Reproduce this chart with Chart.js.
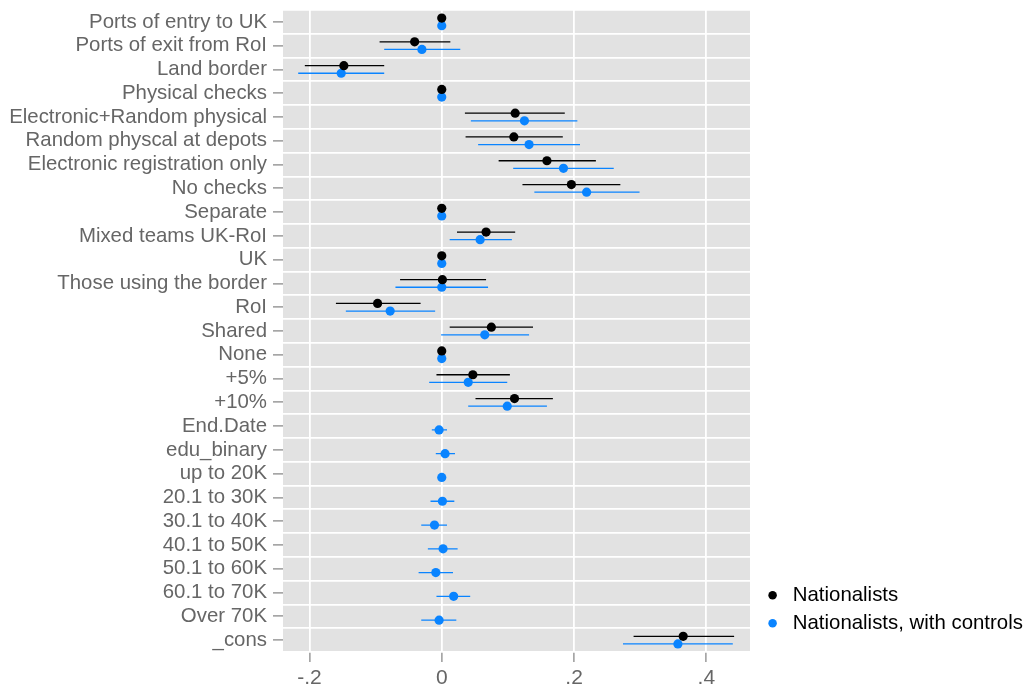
<!DOCTYPE html>
<html><head><meta charset="utf-8">
<script src="https://cdn.jsdelivr.net/npm/chart.js@4/dist/chart.umd.min.js"></script>
<style>html,body{margin:0;padding:0;background:#fff}#wrap{width:1032px;height:687px;position:relative}</style>
</head><body><div id="wrap"><canvas id="c"></canvas></div>
<script>
const categories = ["Ports of entry to UK","Ports of exit from RoI","Land border","Physical checks","Electronic+Random physical","Random physcal at depots","Electronic registration only","No checks","Separate","Mixed teams UK-RoI","UK","Those using the border","RoI","Shared","None","+5%","+10%","End.Date","edu_binary","up to 20K","20.1 to 30K","30.1 to 40K","40.1 to 50K","50.1 to 60K","60.1 to 70K","Over 70K","_cons"];

const seriesNames = ["Nationalists","Nationalists, with controls"];

const natCoef = [0,-0.041,-0.148,0,0.111,0.109,0.159,0.196,0,0.067,0,0.001,-0.097,0.075,0,0.047,0.110,null,null,null,null,null,null,null,null,null,0.365];
const natLo   = [null,-0.094,-0.207,null,0.035,0.036,0.086,0.122,null,0.023,null,-0.063,-0.160,0.012,null,-0.008,0.051,null,null,null,null,null,null,null,null,null,0.290];
const natHi   = [null,0.013,-0.087,null,0.186,0.183,0.233,0.270,null,0.111,null,0.067,-0.032,0.138,null,0.103,0.168,null,null,null,null,null,null,null,null,null,0.442];

const ctrlCoef = [0,-0.030,-0.152,0,0.125,0.132,0.184,0.219,0,0.058,0,0.000,-0.078,0.065,0,0.040,0.099,-0.004,0.005,0,0.001,-0.011,0.002,-0.009,0.018,-0.004,0.357];
const ctrlLo   = [null,-0.087,-0.217,null,0.044,0.055,0.108,0.140,null,0.012,null,-0.070,-0.145,-0.001,null,-0.019,0.040,-0.015,-0.009,null,-0.017,-0.031,-0.021,-0.035,-0.008,-0.031,0.274];
const ctrlHi   = [null,0.028,-0.087,null,0.205,0.209,0.260,0.299,null,0.106,null,0.070,-0.010,0.132,null,0.099,0.159,0.008,0.020,null,0.019,0.008,0.024,0.017,0.043,0.022,0.440];

const xTicks = [-0.2, 0, 0.2, 0.4];
const xTickLabels = ["-.2","0",".2",".4"];

const BLACK = '#000000', BLUE = '#0a84ff';
const OFF = 0.16;

function pts(coef, off){
  const out=[];
  coef.forEach((v,i)=>{ if(v!==null) out.push({x:v, y:i+off}); });
  return out;
}
function bars(lo, hi, off){
  const out=[];
  lo.forEach((v,i)=>{ if(v!==null && hi[i]!==null){ out.push({x:v,y:i+off},{x:hi[i],y:i+off},{x:null,y:null}); } });
  return out;
}

const panelBg = {id:'panelBg', beforeDraw(chart){const {ctx, chartArea:a}=chart; ctx.save(); ctx.fillStyle='#e2e2e2'; ctx.fillRect(a.left,a.top,a.width,a.height); ctx.restore();}};
const legendPlace = {id:'legendPlace',
  afterInit(chart){ const lg=chart.legend; if(lg){ const orig=lg.fit; lg.fit=function(){ orig.call(this); if(!this.isHorizontal()) this.width = 276; }; } },
  afterLayout(chart){ const lg=chart.legend; if(lg){ lg.left += 5; lg.right += 5; lg.top -= 11; lg.bottom -= 11; } }
};

const FONT = 'Liberation Sans, Arial, Helvetica, sans-serif';
const FS = 20.4;

new Chart(document.getElementById('c'), {
  type:'scatter',
  data:{ datasets:[
    {label:'natBars', data:bars(natLo,natHi,-OFF), showLine:true, borderColor:BLACK, borderWidth:1.3, pointRadius:0, spanGaps:false, legendItem:false},
    {label:'ctrlBars', data:bars(ctrlLo,ctrlHi,OFF), showLine:true, borderColor:BLUE, borderWidth:1.3, pointRadius:0, spanGaps:false, legendItem:false},
    {label:seriesNames[0], data:pts(natCoef,-OFF), backgroundColor:BLACK, borderColor:BLACK, pointRadius:4.6, pointBorderWidth:0, legendItem:true},
    {label:seriesNames[1], data:pts(ctrlCoef,OFF), backgroundColor:BLUE, borderColor:BLUE, pointRadius:4.6, pointBorderWidth:0, legendItem:true}
  ]},
  options:{
    responsive:true, maintainAspectRatio:false, animation:false,
    layout:{padding:{top:10,bottom:0,left:0,right:6}},
    plugins:{
      tooltip:{enabled:false},
      legend:{
        position:'right', align:'end', fullSize:false,
        labels:{
          filter:(item,data)=>data.datasets[item.datasetIndex].legendItem,
          usePointStyle:true, pointStyle:'circle', boxWidth:20, boxHeight:6, padding:7.6,
          color:'#000', font:{family:FONT, size:FS}
        }
      }
    },
    scales:{
      x:{
        type:'linear', min:-0.24, max:0.466,
        afterBuildTicks:s=>{ s.ticks = xTicks.map(v=>({value:v})); },
        afterFit:s=>{ s.height = 35; },
        ticks:{ callback:v=>xTickLabels[xTicks.indexOf(v)], color:'#666', font:{family:FONT,size:21}, padding:4, maxRotation:0 },
        grid:{ color:'#ffffff', lineWidth:1.8, tickColor:'#808080', tickLength:10, tickWidth:1.2 },
        border:{display:false}
      },
      y:{
        type:'linear', reverse:true, min:-0.5, max:categories.length-0.5,
        afterBuildTicks:s=>{ const t=[{value:-0.5}]; for(let i=0;i<categories.length;i++){ t.push({value:i}); t.push({value:i+0.5}); } s.ticks=t; },
        afterFit:s=>{ s.width = 283; },
        ticks:{ autoSkip:false, callback:v=>Number.isInteger(v)?categories[v]:[], color:'#666', font:{family:FONT,size:FS}, padding:6 },
        grid:{
          color:ctx=>(ctx.tick && !Number.isInteger(ctx.tick.value))?'#ffffff':'rgba(0,0,0,0)',
          tickColor:ctx=>(ctx.tick && Number.isInteger(ctx.tick.value))?'#808080':'rgba(0,0,0,0)',
          lineWidth:1.8, tickLength:10, tickWidth:1.2
        },
        border:{display:false}
      }
    }
  },
  plugins:[panelBg, legendPlace]
});
</script>
</body></html>
